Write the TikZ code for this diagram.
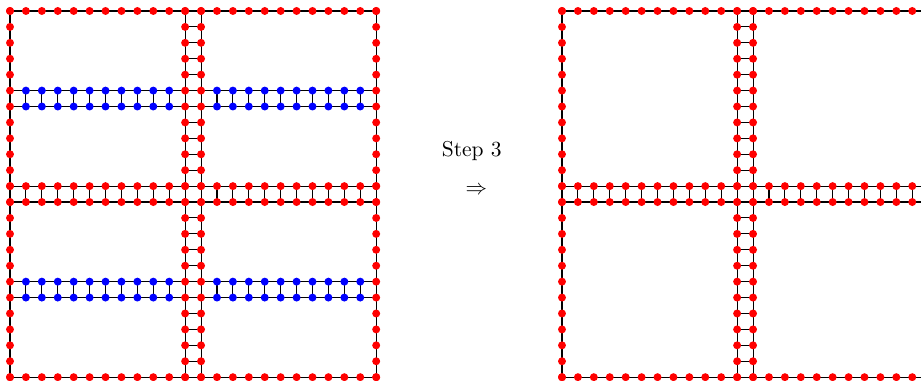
\documentclass[tikz,border=0pt]{standalone}
\usepackage{amsmath,amssymb}
\usepackage{tikz}

\begin{document}
\begin{tikzpicture}[
  x=0.26cm, y=-0.26cm,
  dot/.style={circle, inner sep=0pt, minimum size=3.7pt},
  reddot/.style={dot, fill=red},
  bluedot/.style={dot, fill=blue},
  wire/.style={line width=0.5pt, black},
]
\useasboundingbox (-0.628,-0.69) rectangle (57.22,23.24);
\clip (-0.628,-0.69) rectangle (57.22,23.24);

% Left graph: vertices
\foreach \r in {0,5,6,11,12,17,18,23}
  \foreach \i in {0,...,23}
    \coordinate (L-\i-\r) at (\i,\r);
\foreach \c in {0,11,12,23}
  \foreach \j in {0,...,23}
    \coordinate (L-\c-\j) at (\c,\j);

% Left graph: wires
\foreach \r in {0,5,6,11,12,17,18,23}
  \draw[wire] (L-0-\r) -- (L-23-\r);
\foreach \c in {0,11,12,23}
  \draw[wire] (L-\c-0) -- (L-\c-23);
\foreach \a/\b in {5/6,11/12,17/18}
  \foreach \i in {0,...,23}
    \draw[wire] (L-\i-\a) -- (L-\i-\b);
\foreach \j in {0,...,23}
  \draw[wire] (L-11-\j) -- (L-12-\j);

% Left graph: dots
\foreach \r in {0,11,12,23}
  \foreach \i in {0,...,23}
    \node[reddot] (Ld-\i-\r) at (L-\i-\r) {};
\foreach \c in {0,11,12,23}
  \foreach \j in {0,...,23}
    \node[reddot] (Ld-\c-\j) at (L-\c-\j) {};
\foreach \r in {5,6,17,18}
  \foreach \i in {1,...,10,13,14,...,22}
    \node[bluedot] (Ld-\i-\r) at (L-\i-\r) {};

% Label
\node[anchor=base] (step) at (29.0,9.11) {Step 3};
\node (arr) at (29.3,11.27) {$\Rightarrow$};

% Right graph
\begin{scope}[shift={(34.67,0)}]
\foreach \r in {0,11,12,23}
  \foreach \i in {0,...,23}
    \coordinate (R-\i-\r) at (\i,\r);
\foreach \c in {0,11,12,23}
  \foreach \j in {0,...,23}
    \coordinate (R-\c-\j) at (\c,\j);

\foreach \r in {0,11,12,23}
  \draw[wire] (R-0-\r) -- (R-23-\r);
\foreach \c in {0,11,12,23}
  \draw[wire] (R-\c-0) -- (R-\c-23);
\foreach \i in {0,...,23}
  \draw[wire] (R-\i-11) -- (R-\i-12);
\foreach \j in {0,...,23}
  \draw[wire] (R-11-\j) -- (R-12-\j);

\foreach \r in {0,11,12,23}
  \foreach \i in {0,...,23}
    \node[reddot] (Rd-\i-\r) at (R-\i-\r) {};
\foreach \c in {0,11,12,23}
  \foreach \j in {0,...,23}
    \node[reddot] (Rd-\c-\j) at (R-\c-\j) {};
\end{scope}
\end{tikzpicture}
\end{document}
